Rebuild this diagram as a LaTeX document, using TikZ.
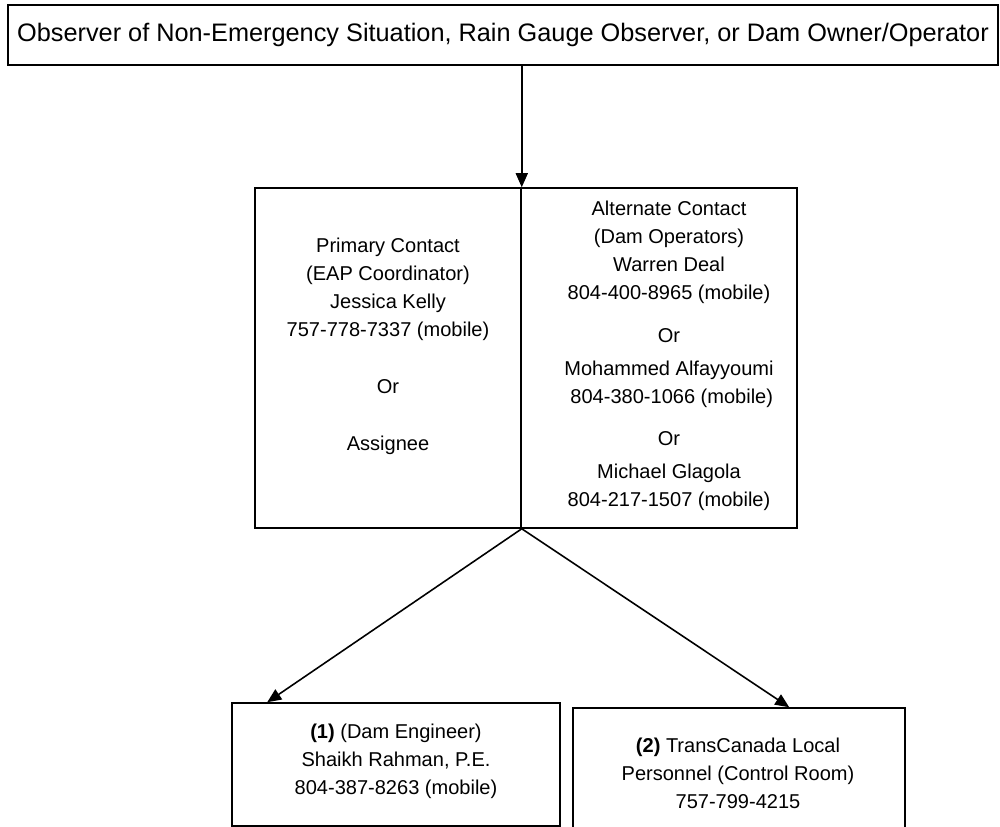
\documentclass[tikz,border=0pt]{standalone}
\usepackage{fontspec}
\setmainfont{Liberation Sans}
\usetikzlibrary{positioning,arrows.meta}

\begin{document}
\begin{tikzpicture}[x=0.02cm,y=-0.02cm,
  box/.style={draw,line width=0.9pt,inner sep=0pt},
  txt/.style={align=center,font=\fontsize{11.4}{15.9}\selectfont},
  arr/.style={line width=0.9pt,-{Triangle[length=0.28cm,width=0.24cm]}}]
\useasboundingbox (0,0) rectangle (1000,827);
\node[box,minimum width=19.8cm,minimum height=1.2cm,font=\fontsize{14.4}{17}\selectfont](obs) at (503,35){Observer of Non-Emergency Situation, Rain Gauge Observer, or Dam Owner/Operator};
\node[box,minimum width=5.32cm,minimum height=6.8cm](prim) at (388,358){};
\node[box,minimum width=5.52cm,minimum height=6.8cm](alt) at (659,358){};
\node[box,minimum width=6.56cm,minimum height=2.46cm](eng) at (396,764.5){};
\node[box,minimum width=6.64cm,minimum height=2.84cm](tc) at (739,779){};
% contact texts
\node[txt](primtext) at (388,346.5){Primary Contact\\(EAP Coordinator)\\Jessica Kelly\\757-778-7337 (mobile)\\[0.58cm]Or\\[0.58cm]Assignee};
\node[txt](alttext) at (669,356){Alternate Contact\\(Dam Operators)\\Warren Deal\\804-400-8965 (mobile)\\[0.3cm]Or\\[0.1cm]Mohammed Alfayyoumi\\\ 804-380-1066 (mobile)\\[0.28cm]Or\\[0.12cm]Michael Glagola\\804-217-1507 (mobile)};
\node[txt](engtext) at (396,761){\textbf{(1)} (Dam Engineer)\\Shaikh Rahman, P.E.\\804-387-8263 (mobile)};
\node[txt](tctext) at (738,773){\textbf{(2)} TransCanada Local\\Personnel (Control Room)\\757-799-4215};
% arrows
\draw[arr] (obs.south -| prim.north east) -- (prim.north east);
\draw[arr] (prim.south east) -- ([xshift=0.72cm]eng.north west);
\draw[arr] (prim.south east) -- ([xshift=4.34cm]tc.north west);
\end{tikzpicture}
\end{document}
